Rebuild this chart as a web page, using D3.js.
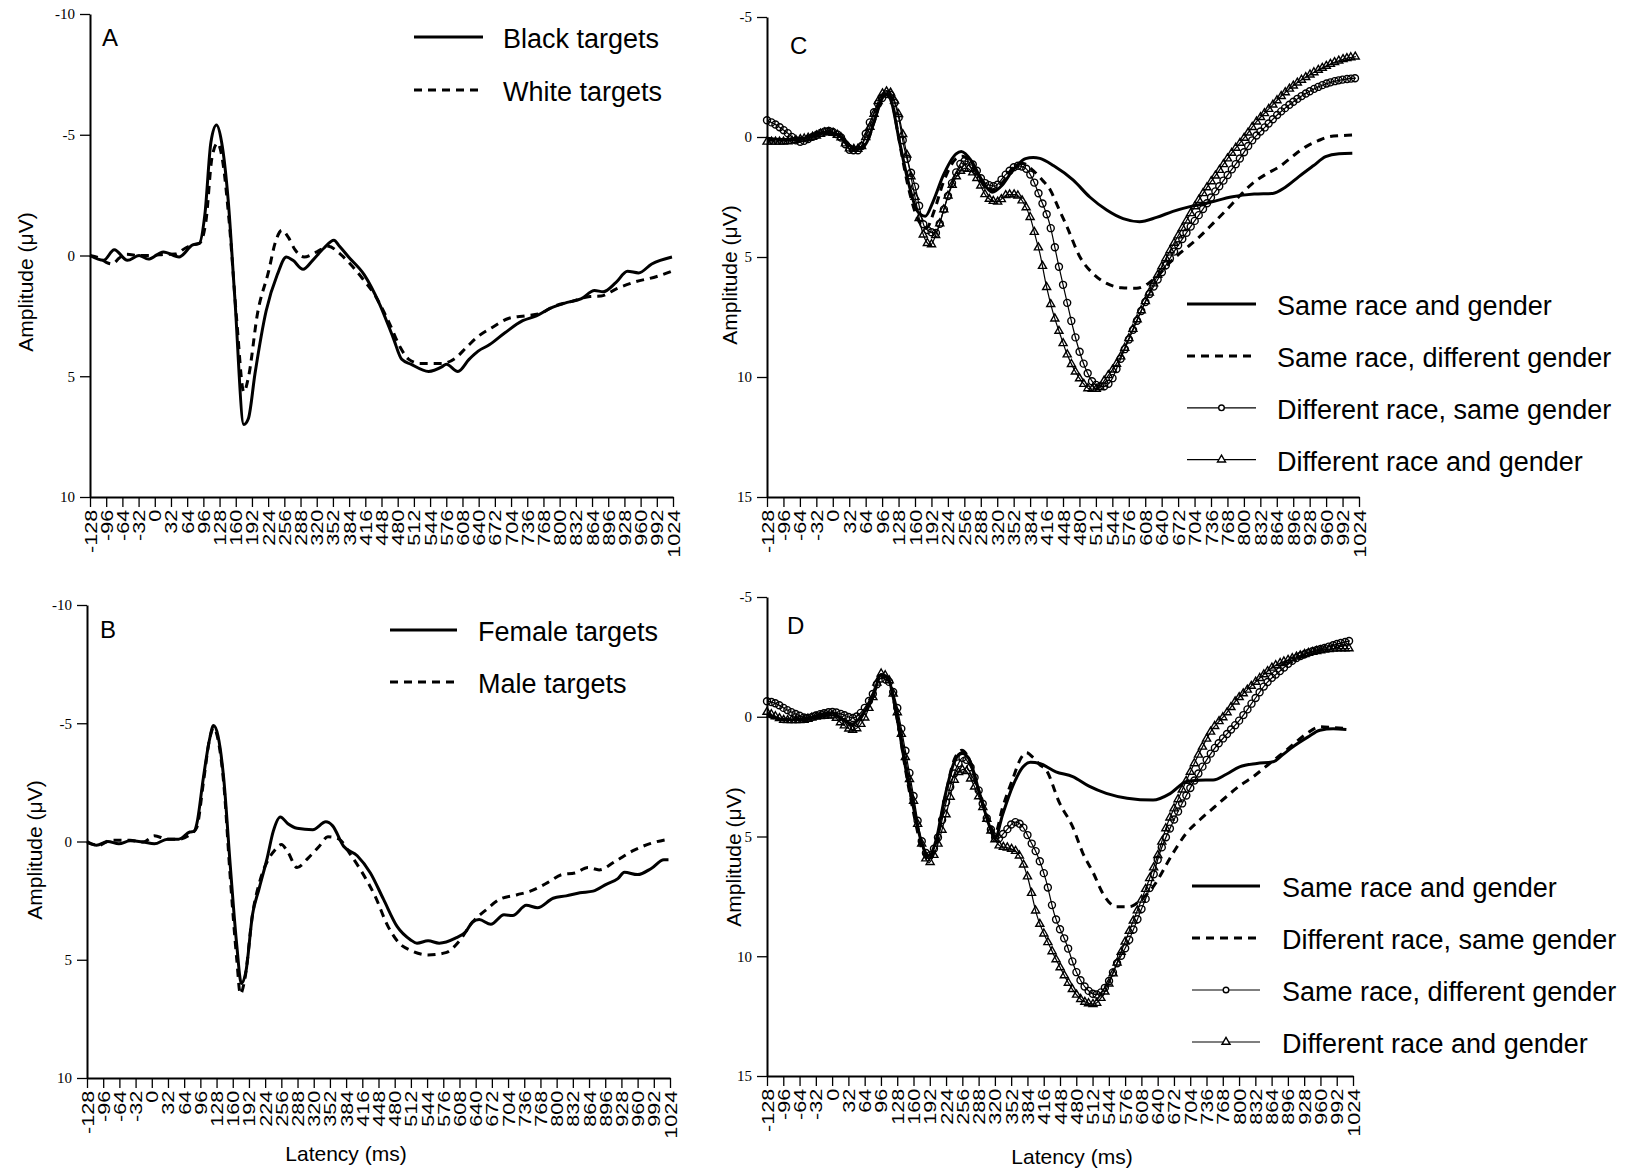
<!DOCTYPE html>
<html lang="en">
<head>
<meta charset="UTF-8">
<script src="https://d3js.org/d3.v7.min.js"></script>
<style>
    body { margin: 0; background: #fff; }
    svg { display: block; }
    .axis path, .axis line { stroke: #000; }
    .axis path { stroke-width: 2; }
    .axis line { stroke-width: 1.3; }
    .y-ticks text { font-family: "Liberation Serif", "Times New Roman", serif; font-size: 15px; fill: #000; }
    .x-ticks text { font-family: "Liberation Sans", Arial, sans-serif; font-size: 16px; fill: #000; }
    .legend text { font-family: "Liberation Sans", Arial, sans-serif; font-size: 27px; fill: #000; }
    .letter { font-family: "Liberation Sans", Arial, sans-serif; font-size: 24px; }
    .axis-title { font-family: "Liberation Sans", Arial, sans-serif; font-size: 21px; }
</style>
</head>
<body>

<svg width="1638" height="1176"></svg>

<script>

// latency tick labels (ms) and amplitude ticks (uV)
var xTicks = [-128,-96,-64,-32,0,32,64,96,128,160,192,224,256,288,320,352,384,416,448,480,
              512,544,576,608,640,672,704,736,768,800,832,864,896,928,960,992,1024];
var yTicksAB = [-10,-5,0,5,10];
var yTicksCD = [-5,0,5,10,15];

// panel A  [latency ms, amplitude uV]
var blackTargets = [[-128,0],[-101,0.2],[-80,-0.24],[-54,0.2],[-31,0],[-13,0.15],[17,-0.15],[48,0.06],[75,-0.44],[88,-0.5],
    [99,-1.7],[111,-4.7],[122,-5.4],[132,-4.7],[145,-2.3],[158,1.7],[176,7.0],[185,6.75],[198,4.9],[220,2.3],[242,0.8],
    [260,0.06],[273,0.2],[293,0.57],[312,0.2],[334,-0.3],[354,-0.63],[365,-0.38],[383,0.06],[414,0.8],[444,2.0],[471,3.4],
    [488,4.3],[506,4.5],[541,4.8],[568,4.6],[576,4.5],[599,4.8],[621,4.3],[639,3.96],[661,3.7],[692,3.2],[727,2.7],
    [754,2.5],[780,2.2],[815,1.94],[842,1.8],[869,1.45],[886,1.5],[912,1.1],[934,0.65],[956,0.72],[982,0.35],[1022,0.06]];
var whiteTargets = [[-128,0],[-110,0.1],[-96,0.28],[-84,0.35],[-70,0.1],[-55,-0.05],[-30,0],[-5,0],[20,-0.05],[40,-0.06],
    [60,-0.3],[75,-0.44],[88,-0.5],[101,-1.4],[113,-4.05],[124,-4.65],[133,-4.05],[147,-1.4],[162,2.7],[176,5.65],[185,5.05],
    [203,2.4],[225,0.65],[238,-0.53],[251,-1.04],[264,-0.75],[277,-0.24],[295,0.06],[321,-0.16],[343,-0.38],[365,-0.09],
    [383,0.28],[410,0.94],[436,1.68],[463,2.78],[485,3.8],[502,4.3],[524,4.47],[568,4.47],[594,4.25],[616,3.8],[639,3.35],
    [665,3.0],[700,2.6],[731,2.5],[762,2.4],[789,2.1],[824,1.9],[860,1.7],[882,1.68],[912,1.38],[948,1.1],[992,0.87],[1022,0.65]];

// panel B
var femaleTargets = [[-128,0],[-109,0.16],[-87,0],[-65,0.1],[-43,-0.03],[-17,0.02],[5,0.1],[31,-0.1],[53,-0.1],[75,-0.4],
    [84,-0.43],[89,-0.75],[102,-2.7],[114,-4.3],[122,-4.9],[131,-4.45],[142,-2.7],[155,1.0],[168,4.4],[177,6.0],[186,5.5],
    [199,3.1],[212,2.0],[228,0.7],[240,-0.43],[254,-1.04],[269,-0.75],[287,-0.56],[318,-0.5],[344,-0.83],[357,-0.67],
    [379,0.2],[406,0.6],[432,1.33],[458,2.45],[485,3.6],[511,4.15],[524,4.3],[546,4.2],[568,4.3],[599,4.1],[621,3.8],
    [634,3.4],[647,3.3],[670,3.5],[696,3.1],[713,3.13],[740,2.7],[762,2.8],[793,2.4],[819,2.3],[846,2.17],[872,2.1],
    [899,1.8],[921,1.57],[934,1.3],[960,1.4],[987,1.14],[1012,0.77],[1021,0.77]];
var maleTargets = [[-128,0.05],[-104,0.16],[-82,-0.05],[-43,-0.05],[-17,0.02],[5,-0.24],[31,-0.1],[53,-0.1],[79,-0.35],
    [89,-0.6],[102,-2.5],[114,-4.3],[122,-4.8],[131,-4.3],[142,-2.5],[155,1.5],[168,5.0],[175,6.45],[184,5.8],[199,3.1],
    [216,1.5],[230,0.77],[243,0.37],[256,0.13],[269,0.45],[287,1.1],[309,0.7],[331,0.2],[348,-0.2],[370,-0.1],[392,0.53],
    [414,1.25],[441,2.3],[467,3.6],[489,4.3],[511,4.6],[546,4.8],[581,4.7],[608,4.2],[634,3.4],[660,2.9],[687,2.45],
    [722,2.25],[748,2.1],[783,1.73],[810,1.4],[836,1.33],[862,1.1],[884,1.2],[915,0.85],[950,0.4],[986,0.08],[1021,-0.1]];

// panel C
var cSameBoth = [[-128,0.05],[-100,0.1],[-64,0.1],[-32,-0.15],[-10,-0.2],[10,-0.1],[30,0.3],[45,0.5],[64,0.3],[80,-0.6],
    [96,-1.6],[105,-1.8],[115,-1.4],[128,0],[145,1.7],[165,3.1],[180,3.3],[195,2.7],[215,1.6],[240,0.7],[250,0.6],[270,1.0],
    [290,1.8],[310,2.3],[330,2.0],[350,1.4],[375,0.9],[390,0.85],[403,0.89],[430,1.2],[468,1.8],[500,2.5],[533,3.04],
    [565,3.4],[597,3.53],[630,3.35],[662,3.1],[695,2.9],[727,2.76],[778,2.49],[820,2.38],[856,2.35],[880,2.1],[907,1.65],
    [935,1.2],[959,0.82],[985,0.7],[1011,0.68]];
var cSameRaceDiffGender = [[-128,0.1],[-100,0.1],[-64,0.05],[-32,-0.1],[-10,-0.2],[10,-0.1],[30,0.3],[45,0.5],[64,0.3],
    [80,-0.6],[96,-1.7],[105,-1.9],[115,-1.5],[128,0],[145,1.9],[165,3.4],[182,3.8],[197,3.1],[215,1.9],[240,0.9],[252,0.8],
    [270,1.1],[290,1.8],[310,2.2],[330,1.9],[350,1.3],[370,1.1],[390,1.4],[408,1.8],[423,2.2],[440,3.0],[455,3.7],[481,5.0],
    [507,5.7],[533,6.1],[562,6.28],[591,6.3],[614,6.1],[636,5.7],[655,5.25],[675,4.85],[695,4.5],[714,4.15],[740,3.6],
    [766,3.04],[792,2.45],[817,1.93],[843,1.55],[869,1.24],[895,0.8],[921,0.4],[945,0.15],[966,-0.01],[990,-0.06],[1011,-0.08]];
var cDiffRaceSameGender = [[-128,-0.7],[-110,-0.5],[-90,-0.2],[-64,0.2],[-40,0],[-10,-0.25],[15,0],[35,0.55],[50,0.55],
    [70,-0.5],[90,-1.45],[108,-1.8],[125,-1.1],[140,0.55],[160,2.05],[180,3.8],[200,4.0],[215,3.1],[235,1.75],[255,1.0],
    [270,1.1],[295,1.9],[315,2.05],[335,1.6],[360,1.2],[375,1.3],[390,1.8],[403,2.5],[423,3.7],[439,5.3],[455,6.8],[468,8.0],
    [481,9.0],[495,9.8],[510,10.3],[525,10.4],[540,10.2],[559,9.3],[585,8.0],[610,6.8],[636,5.8],[662,4.85],[688,4.0],
    [714,3.2],[740,2.4],[766,1.65],[792,0.9],[817,0.12],[843,-0.45],[869,-1.0],[895,-1.45],[921,-1.82],[946,-2.1],
    [972,-2.3],[995,-2.4],[1018,-2.45]];
var cDiffBoth = [[-128,0.2],[-100,0.2],[-64,0.1],[-40,0],[-10,-0.2],[15,0],[35,0.5],[50,0.5],[70,-0.3],[96,-1.8],[108,-1.9],
    [125,-1.2],[140,0.3],[160,2.5],[175,4.0],[190,4.5],[205,3.8],[225,2.4],[245,1.5],[260,1.3],[280,1.7],[300,2.5],[320,2.7],
    [340,2.4],[355,2.4],[370,2.7],[385,3.4],[395,4.2],[403,4.85],[416,6.24],[429,7.35],[442,8.2],[455,9.0],[470,9.7],
    [485,10.2],[500,10.5],[515,10.5],[530,10.1],[559,9.2],[582,8.1],[605,7.0],[630,5.85],[652,4.9],[675,4.0],[700,3.05],
    [725,2.2],[750,1.45],[775,0.7],[800,0.05],[825,-0.65],[850,-1.2],[875,-1.75],[900,-2.2],[925,-2.55],[950,-2.85],
    [975,-3.1],[1000,-3.28],[1018,-3.35]];

// panel D
var dSameBoth = [[-128,-0.1],[-100,0.1],[-64,0.13],[-30,0],[0,-0.15],[20,0.1],[40,0.3],[60,-0.1],[80,-0.8],[96,-1.75],
    [110,-1.6],[128,0.1],[145,2.2],[160,3.8],[178,5.4],[190,5.8],[205,5.1],[220,3.5],[240,1.9],[255,1.5],[270,1.8],[290,3.2],
    [310,4.6],[320,5.1],[335,4.1],[355,2.9],[375,2.1],[390,1.9],[408,1.95],[440,2.3],[473,2.5],[505,2.9],[539,3.2],[580,3.4],
    [631,3.48],[665,3.2],[697,2.7],[720,2.65],[749,2.64],[775,2.4],[801,2.09],[835,1.95],[867,1.88],[885,1.6],[906,1.25],
    [935,0.85],[959,0.56],[985,0.5],[1011,0.53]];
var dDiffRaceSameGender = [[-128,-0.05],[-100,0.1],[-64,0.1],[-30,0],[0,-0.1],[20,0.1],[40,0.35],[60,-0.1],[80,-0.9],
    [96,-1.8],[110,-1.6],[128,0.1],[145,2.3],[160,4.0],[178,5.6],[190,6.0],[205,5.3],[220,3.6],[240,1.8],[255,1.4],[270,1.8],
    [290,3.2],[310,4.5],[320,4.9],[335,3.8],[355,2.6],[372,1.7],[382,1.5],[395,1.7],[408,2.0],[421,2.23],[447,3.6],[473,4.6],
    [493,5.7],[513,6.5],[532,7.37],[559,7.93],[585,7.93],[604,7.7],[631,7.1],[670,5.7],[695,4.9],[723,4.3],[750,3.8],
    [775,3.34],[800,2.9],[828,2.5],[860,1.95],[893,1.4],[915,1.0],[933,0.7],[959,0.42],[985,0.45],[1011,0.49]];
var dSameRaceDiffGender = [[-128,-0.65],[-110,-0.55],[-90,-0.3],[-70,-0.1],[-50,0.05],[-25,-0.1],[0,-0.2],[20,-0.1],
    [40,0.05],[60,-0.25],[80,-0.95],[96,-1.6],[110,-1.5],[125,-0.65],[140,0.95],[160,3.3],[175,5.1],[190,5.8],[205,5.25],
    [225,3.5],[245,2.1],[258,1.7],[272,2.1],[290,3.2],[310,4.6],[325,5.1],[340,4.8],[360,4.4],[375,4.6],[390,5.2],[402,5.7],
    [420,6.8],[437,8.25],[461,9.5],[479,10.6],[502,11.4],[520,11.6],[540,11.2],[560,10.3],[580,9.5],[605,8.2],[625,7.1],
    [644,5.7],[670,4.4],[696,3.3],[722,2.3],[749,1.4],[775,0.75],[801,0.14],[828,-0.65],[854,-1.4],[880,-1.9],[906,-2.36],
    [940,-2.7],[972,-2.9],[995,-3.05],[1018,-3.17]];
var dDiffBoth = [[-128,-0.2],[-110,0],[-90,0.15],[-64,0.15],[-30,0],[0,-0.05],[20,0.3],[40,0.55],[60,0.2],[80,-0.8],
    [96,-1.8],[110,-1.6],[128,-0.2],[145,1.8],[160,3.5],[175,5.2],[190,6.1],[205,5.5],[225,4.0],[245,2.4],[260,2.2],[275,2.7],
    [295,3.7],[315,4.9],[330,5.4],[350,5.5],[365,5.7],[384,6.67],[402,8.25],[426,9.5],[449,10.5],[473,11.4],[496,11.9],
    [515,12.0],[530,11.7],[545,11.1],[565,10.0],[585,8.9],[618,7.1],[640,5.8],[657,4.6],[677,3.6],[697,2.64],[720,1.6],
    [745,0.6],[775,-0.14],[795,-0.7],[815,-1.1],[840,-1.6],[867,-2.08],[900,-2.4],[933,-2.64],[970,-2.8],[1000,-2.85],[1018,-2.85]];

var svg = d3.select("svg");
var markerStep = 8;   // ms between symbols along the marked curves

var panels = [
    {letter: "A", left: 90, right: 673, top: 14, bottom: 497, yDomain: [-10, 10], yTicks: yTicksAB,
     letterPos: [102, 46], yTitle: [33, 282], xTitle: null,
     legend: {x1: 414, x2: 483, tx: 503, y: 37, gap: 53},
     series: [{data: blackTargets, kind: "solid", name: "Black targets"},
              {data: whiteTargets, kind: "dash", name: "White targets"}]},
    {letter: "B", left: 87, right: 670, top: 605, bottom: 1078, yDomain: [-10, 10], yTicks: yTicksAB,
     letterPos: [100, 638], yTitle: [42, 850], xTitle: [346, 1161],
     legend: {x1: 390, x2: 457, tx: 478, y: 630, gap: 52},
     series: [{data: femaleTargets, kind: "solid", name: "Female targets"},
              {data: maleTargets, kind: "dash", name: "Male targets"}]},
    {letter: "C", left: 767, right: 1359, top: 17, bottom: 497, yDomain: [-5, 15], yTicks: yTicksCD,
     letterPos: [790, 54], yTitle: [737, 275], xTitle: null,
     legend: {x1: 1187, x2: 1256, tx: 1277, y: 304, gap: 51.9},
     series: [{data: cSameBoth, kind: "solid", name: "Same race and gender"},
              {data: cSameRaceDiffGender, kind: "dash", name: "Same race, different gender"},
              {data: cDiffRaceSameGender, kind: "circle", name: "Different race, same gender"},
              {data: cDiffBoth, kind: "triangle", name: "Different race and gender"}]},
    {letter: "D", left: 767, right: 1353, top: 597, bottom: 1076, yDomain: [-5, 15], yTicks: yTicksCD,
     letterPos: [787, 634], yTitle: [741, 857], xTitle: [1072, 1164],
     legend: {x1: 1192, x2: 1260, tx: 1282, y: 886, gap: 52},
     series: [{data: dSameBoth, kind: "solid", name: "Same race and gender"},
              {data: dDiffRaceSameGender, kind: "dash", name: "Different race, same gender"},
              {data: dSameRaceDiffGender, kind: "circle", name: "Same race, different gender"},
              {data: dDiffBoth, kind: "triangle", name: "Different race and gender"}]}
];

var triangle = d3.symbol().type(d3.symbolTriangle).size(28);

function styleLine(sel, kind) {
    sel.attr("fill", "none")
        .attr("stroke", "#000")
        .attr("stroke-width", (kind === "solid" || kind === "dash") ? 3 : 1.2)
        .attr("stroke-dasharray", kind === "dash" ? "8,6" : null);
}

function drawMarker(g, kind, px, py, legend) {
    if (kind === "circle") {
        g.append("circle").attr("cx", px).attr("cy", py).attr("r", legend ? 2.8 : 3.5)
            .attr("fill", legend ? "#fff" : "none").attr("stroke", "#000").attr("stroke-width", 1.4);
    } else if (kind === "triangle") {
        g.append("path").attr("d", triangle).attr("transform", "translate(" + px + "," + py + ")")
            .attr("fill", legend ? "#fff" : "none").attr("stroke", "#000").attr("stroke-width", 1.4);
    }
}

// place symbols along the drawn path every markerStep ms
function addMarkers(g, path, x, data, kind) {
    var node = path.node(), len = node.getTotalLength(), samples = [];
    for (var l = 0; l <= len; l += 0.5) samples.push(node.getPointAtLength(l));
    var k = 0;
    for (var ms = data[0][0]; ms <= data[data.length - 1][0]; ms += markerStep) {
        var px = x(ms);
        while (k < samples.length - 1 && samples[k].x < px) k++;
        drawMarker(g, kind, samples[k].x, samples[k].y, false);
    }
}

panels.forEach(function(p) {
    var x = d3.scaleLinear().domain([-128, 1024]).range([p.left, p.right]);
    var y = d3.scaleLinear().domain(p.yDomain).range([p.top, p.bottom]);
    var g = svg.append("g");

    // y axis
    g.append("g")
        .attr("class", "axis y-ticks")
        .attr("transform", "translate(" + p.left + ",0)")
        .call(d3.axisLeft(y).tickValues(p.yTicks).tickSize(10).tickSizeOuter(0).tickPadding(5)
            .tickFormat(function(d) { return String(d); }));

    // x axis with rotated, stretched labels
    var xa = g.append("g")
        .attr("class", "axis x-ticks")
        .attr("transform", "translate(0," + p.bottom + ")")
        .call(d3.axisBottom(x).tickValues(xTicks).tickSize(10).tickSizeOuter(0)
            .tickFormat(function(d) { return String(d); }));
    xa.selectAll(".tick text")
        .attr("text-anchor", "end")
        .attr("x", -9.5)
        .attr("y", 6)
        .attr("dy", 0)
        .attr("transform", "rotate(-90) scale(1.35,1)");

    var line = d3.line()
        .x(function(d) { return x(d[0]); })
        .y(function(d) { return y(d[1]); })
        .curve(d3.curveMonotoneX);

    p.series.forEach(function(s) {
        var path = g.append("path").datum(s.data).attr("d", line).call(styleLine, s.kind);
        if (s.kind === "circle" || s.kind === "triangle") addMarkers(g, path, x, s.data, s.kind);
    });

    // legend
    var lg = g.append("g").attr("class", "legend");
    p.series.forEach(function(s, i) {
        var ly = p.legend.y + i * p.legend.gap;
        lg.append("line")
            .attr("x1", p.legend.x1).attr("x2", p.legend.x2)
            .attr("y1", ly).attr("y2", ly)
            .call(styleLine, s.kind);
        drawMarker(lg, s.kind, (p.legend.x1 + p.legend.x2) / 2, ly, true);
        lg.append("text")
            .attr("x", p.legend.tx)
            .attr("y", ly + 11)
            .text(s.name);
    });

    g.append("text")
        .attr("class", "letter")
        .attr("x", p.letterPos[0])
        .attr("y", p.letterPos[1])
        .text(p.letter);

    g.append("text")
        .attr("class", "axis-title")
        .attr("text-anchor", "middle")
        .attr("transform", "translate(" + p.yTitle[0] + "," + p.yTitle[1] + ") rotate(-90)")
        .text("Amplitude (\u03bcV)");

    if (p.xTitle) {
        g.append("text")
            .attr("class", "axis-title")
            .attr("text-anchor", "middle")
            .attr("x", p.xTitle[0])
            .attr("y", p.xTitle[1])
            .text("Latency (ms)");
    }
});

</script>

</body>
</html>
